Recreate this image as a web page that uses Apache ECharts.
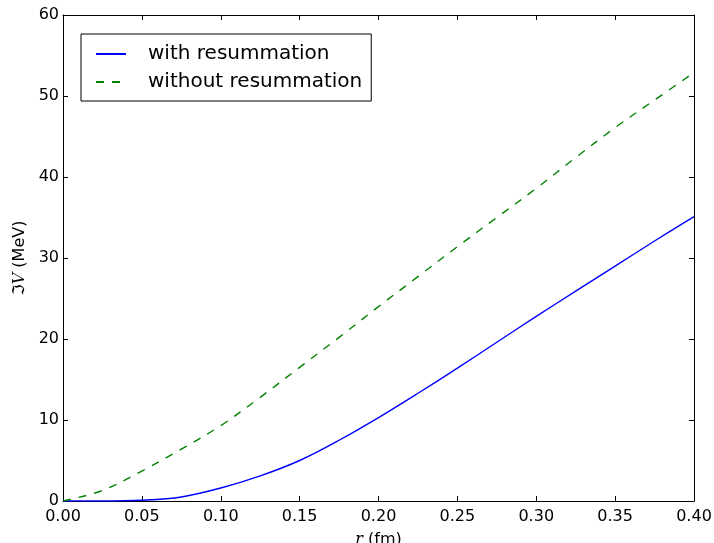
<!DOCTYPE html>
<html>
<head>
<meta charset="utf-8">
<script src="https://cdn.jsdelivr.net/npm/echarts@6/dist/echarts.min.js"></script>
<style>html,body{margin:0;padding:0;background:#fff}#c{width:714px;height:543px}</style>
</head>
<body>
<div id="c"></div>
<script>
const rValues = [0, 0.025, 0.05, 0.075, 0.1, 0.125, 0.15, 0.175, 0.2, 0.225, 0.25, 0.275, 0.3, 0.325, 0.35, 0.375, 0.4];
const withResum = [0, 0.0, 0.1, 0.5, 1.6, 3.1, 5.0, 7.5, 10.3, 13.3, 16.4, 19.6, 22.8, 25.9, 29.0, 32.1, 35.1];
const withoutResum = [0, 1.3, 3.7, 6.4, 9.3, 12.8, 16.5, 20.2, 24.0, 27.7, 31.4, 35.0, 38.6, 42.4, 46.1, 49.5, 52.9];
const seriesNames = ['with resummation', 'without resummation'];

const font = 'DejaVu Sans';
const chart = echarts.init(document.getElementById('c'), null, {renderer: 'canvas'});
const axisCommon = {
  axisLine: {show: true, onZero: false, lineStyle: {color: '#000', width: 1}},
  axisTick: {show: true, inside: true, length: 5, lineStyle: {color: '#000', width: 1}},
  splitLine: {show: false}
};
function pairs(ys) { return rValues.map((r, i) => [r, ys[i]]); }

chart.setOption({
  animation: false,
  backgroundColor: '#fff',
  textStyle: {fontFamily: font},
  grid: {left: 63, top: 15, right: 20, bottom: 42, containLabel: false, outerBoundsMode: 'none'},
  legend: {
    left: 81, top: 34,
    orient: 'vertical',
    data: seriesNames,
    borderColor: '#000', borderWidth: 1, borderRadius: 0,
    backgroundColor: '#fff',
    padding: [10, 9, 9, 14],
    itemWidth: 30, itemHeight: 16, itemGap: 8,
    itemStyle: {opacity: 0},
    textStyle: {fontFamily: font, fontSize: 20, color: '#000', padding: [0, 0, 0, 17]}
  },
  xAxis: [
    Object.assign({
      type: 'value', min: 0, max: 0.4, interval: 0.05, position: 'bottom',
      axisLabel: {formatter: v => v.toFixed(2), fontSize: 16, color: '#000', margin: 8, fontFamily: font},
      name: '{i|r} (fm)', nameLocation: 'middle', nameGap: 31,
      nameTextStyle: {fontSize: 16, color: '#000', fontFamily: font,
        rich: {i: {fontFamily: 'DejaVu Serif', fontStyle: 'italic', fontSize: 16, color: '#000'}}}
    }, axisCommon),
    Object.assign({
      type: 'value', min: 0, max: 0.4, interval: 0.05, position: 'top',
      axisLabel: {show: false}
    }, axisCommon)
  ],
  yAxis: [
    Object.assign({
      type: 'value', min: 0, max: 60, interval: 10, position: 'left',
      axisLabel: {fontSize: 16, color: '#000', margin: 4, fontFamily: font},
      name: 'ℑ{i|V} (MeV)', nameLocation: 'middle', nameGap: 26, nameRotate: 90,
      nameTextStyle: {fontSize: 16, color: '#000', fontFamily: font,
        rich: {i: {fontFamily: 'DejaVu Serif', fontStyle: 'italic', fontSize: 16, color: '#000'}}}
    }, axisCommon),
    Object.assign({
      type: 'value', min: 0, max: 60, interval: 10, position: 'right',
      axisLabel: {show: false}
    }, axisCommon)
  ],
  series: [
    {
      name: seriesNames[0], type: 'line', data: pairs(withResum),
      smooth: 0.35, showSymbol: false, symbol: 'none',
      lineStyle: {color: '#0000ff', width: 1.4},
      itemStyle: {color: '#0000ff'}
    },
    {
      name: seriesNames[1], type: 'line', data: pairs(withoutResum),
      smooth: 0.35, showSymbol: false, symbol: 'none',
      lineStyle: {color: '#008000', width: 1.4, type: [8, 8]},
      itemStyle: {color: '#008000'}
    }
  ]
});
</script>
</body>
</html>
